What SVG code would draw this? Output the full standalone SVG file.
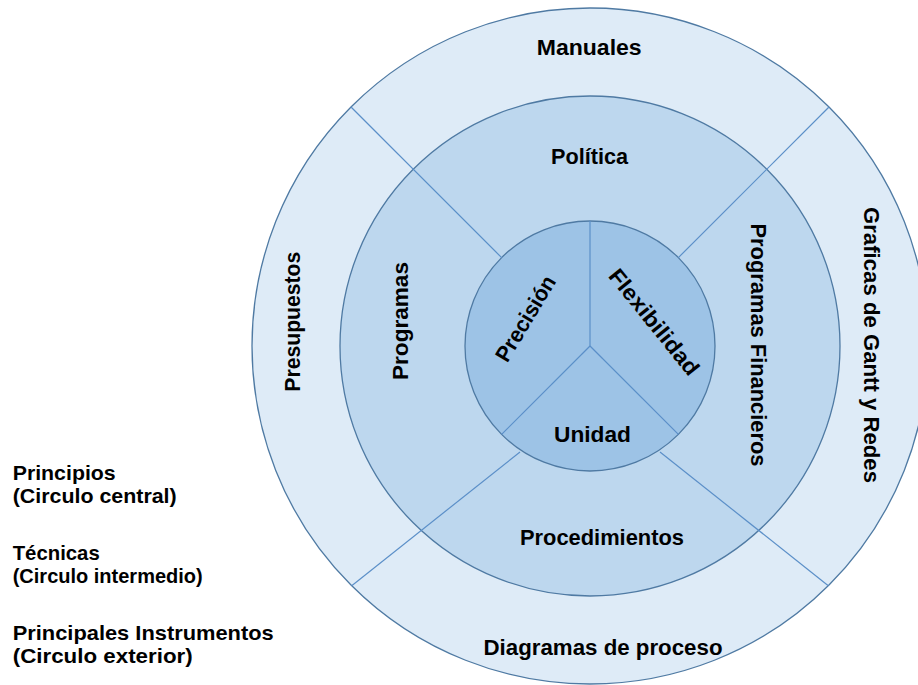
<svg xmlns="http://www.w3.org/2000/svg" width="918" height="685" viewBox="0 0 918 685">
<style>
.ring{stroke:#4f7aa3;stroke-width:1.3}
.outer{fill:#deebf7}
.mid{fill:#bdd7ee}
.inner{fill:#9dc3e6}
.div{stroke:#5b8fc8;stroke-width:1.2;fill:none}
text{font-family:"Liberation Sans",Arial,sans-serif;font-weight:bold;font-size:22px;fill:#000}
.c{text-anchor:middle}
.leg{font-size:21px}
</style>
<rect width="918" height="685" fill="#ffffff"/>
<g id="outer-ring">
<circle class="ring outer" cx="590" cy="346" r="338"/>
</g>
<g id="middle-ring">
<circle class="ring mid" cx="590" cy="346" r="250"/>
</g>
<g id="inner-circle">
<circle class="ring inner" cx="590" cy="346" r="125"/>
</g>
<g id="connectors">
<line class="div" x1="501.6" y1="257.6" x2="351" y2="107"/>
<line class="div" x1="678.4" y1="257.6" x2="829" y2="107"/>
<line class="div" x1="520" y1="452" x2="351.7" y2="585.7"/>
<line class="div" x1="660" y1="452" x2="828.3" y2="585.7"/>
<line class="div" x1="590" y1="346" x2="590" y2="221"/>
<line class="div" x1="590" y1="346" x2="501.6" y2="434.4"/>
<line class="div" x1="590" y1="346" x2="678.4" y2="434.4"/>
</g>
<g id="node-manuales"><text class="c" x="589.2" y="55" textLength="105" lengthAdjust="spacingAndGlyphs">Manuales</text></g>
<g id="node-presupuestos"><text class="c" transform="translate(300,321.7) rotate(-90)" x="0" y="0" textLength="140" lengthAdjust="spacingAndGlyphs">Presupuestos</text></g>
<g id="node-graficas"><text class="c" transform="translate(863.5,345) rotate(90)" x="0" y="0" textLength="276" lengthAdjust="spacingAndGlyphs">Graficas de Gantt y Redes</text></g>
<g id="node-diagramas"><text class="c" x="603" y="655" textLength="239" lengthAdjust="spacingAndGlyphs">Diagramas de proceso</text></g>
<g id="node-politica"><text class="c" x="589.6" y="164" textLength="77" lengthAdjust="spacingAndGlyphs">Política</text></g>
<g id="node-programas"><text class="c" transform="translate(408,321) rotate(-90)" x="0" y="0" textLength="118" lengthAdjust="spacingAndGlyphs">Programas</text></g>
<g id="node-programas-financieros"><text class="c" transform="translate(751,345) rotate(90)" x="0" y="0" textLength="243" lengthAdjust="spacingAndGlyphs">Programas Financieros</text></g>
<g id="node-procedimientos"><text class="c" x="602" y="545" textLength="164" lengthAdjust="spacingAndGlyphs">Procedimientos</text></g>
<g id="node-precision"><text class="c" transform="translate(532,322.4) rotate(-59)" x="0" y="0" textLength="96" lengthAdjust="spacingAndGlyphs">Precisión</text></g>
<g id="node-flexibilidad"><text class="c" transform="translate(648.3,326.8) rotate(51)" x="0" y="0" textLength="130" lengthAdjust="spacingAndGlyphs">Flexibilidad</text></g>
<g id="node-unidad"><text class="c" x="592.5" y="442" textLength="77" lengthAdjust="spacingAndGlyphs">Unidad</text></g>
<g id="legend">
<text class="leg" x="12.7" y="480" textLength="103" lengthAdjust="spacingAndGlyphs">Principios</text>
<text class="leg" x="12.7" y="503.3" textLength="164" lengthAdjust="spacingAndGlyphs">(Circulo central)</text>
<text class="leg" x="12.7" y="560" textLength="87" lengthAdjust="spacingAndGlyphs">Técnicas</text>
<text class="leg" x="12.7" y="583.3" textLength="190" lengthAdjust="spacingAndGlyphs">(Circulo intermedio)</text>
<text class="leg" x="12.7" y="640" textLength="261" lengthAdjust="spacingAndGlyphs">Principales Instrumentos</text>
<text class="leg" x="12.7" y="663.3" textLength="180" lengthAdjust="spacingAndGlyphs">(Circulo exterior)</text>
</g>
</svg>
